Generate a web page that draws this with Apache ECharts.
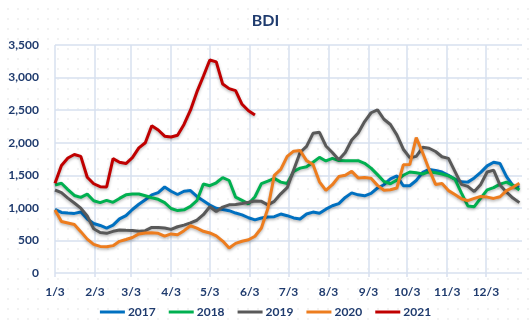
<!DOCTYPE html>
<html>
<head>
<meta charset="utf-8">
<script src="https://cdn.jsdelivr.net/npm/echarts@6/dist/echarts.min.js"></script>
<style>
  html, body { margin: 0; padding: 0; background: #ffffff; }
  #chart {
    width: 531px; height: 328px;
    background-color: #ffffff;
    background-image: radial-gradient(circle, #e2e2e2 0.6px, rgba(255,255,255,0) 0.8px);
    background-size: 10px 10px;
    background-position: 3px 4px;
  }
</style>
</head>
<body>
<div id="chart"></div>
<script>
// Day offsets counted from 3 January; one reading every five days
const days = [];
for (let d = 0; d <= 360; d += 5) days.push(d);

// Month ticks on the 3rd of each month
const tickDays = [0, 31, 59, 90, 120, 151, 181, 212, 243, 273, 304, 334];
const tickLabels = ['1/3', '2/3', '3/3', '4/3', '5/3', '6/3', '7/3', '8/3', '9/3', '10/3', '11/3', '12/3'];

const years = ['2017', '2018', '2019', '2020', '2021'];
const colors = ['#0070C0', '#00B050', '#595959', '#ED7D1F', '#C00000'];

const bdi2017 = [978, 930, 920, 915, 935, 830, 760, 730, 690, 735,
  830, 880, 975, 1055, 1125, 1200, 1235, 1320, 1255, 1205,
  1255, 1265, 1175, 1110, 1044, 993, 975, 957, 920, 893,
  848, 815, 845, 860, 865, 905, 880, 845, 830, 905,
  935, 916, 980, 1033, 1065, 1160, 1230, 1200, 1185, 1222,
  1305, 1355, 1445, 1490, 1340, 1340, 1420, 1545, 1590, 1575,
  1550, 1500, 1440, 1400, 1395, 1460, 1545, 1645, 1700, 1680,
  1480, 1340, 1320];

const bdi2018 = [1350, 1377, 1280, 1190, 1160, 1210, 1110, 1080, 1115, 1085,
  1145, 1200, 1212, 1212, 1185, 1155, 1131, 1080, 990, 958,
  970, 1022, 1110, 1366, 1340, 1385, 1465, 1420, 1165, 1115,
  1062, 1170, 1372, 1410, 1452, 1395, 1375, 1560, 1610, 1630,
  1700, 1775, 1720, 1760, 1726, 1724, 1724, 1724, 1684, 1610,
  1510, 1405, 1370, 1425, 1500, 1550, 1540, 1520, 1555, 1540,
  1520, 1490, 1440, 1230, 1030, 1018, 1150, 1275, 1310, 1365,
  1395, 1345, 1274];

const bdi2019 = [1274, 1235, 1150, 1075, 995, 875, 680, 622, 609, 640,
  660, 655, 652, 640, 650, 700, 700, 690, 670, 710,
  735, 770, 810, 895, 1018, 945, 1012, 1046, 1052, 1068,
  1085, 1105, 1100, 1045, 1100, 1215, 1310, 1580, 1850, 1945,
  2144, 2160, 1950, 1850, 1740, 1850, 2042, 2150, 2325, 2460,
  2505, 2360, 2280, 2120, 1900, 1770, 1790, 1929, 1915, 1865,
  1785, 1760, 1560, 1360, 1330, 1250, 1360, 1550, 1580, 1350,
  1240, 1150, 1080];

const bdi2020 = [967, 790, 768, 745, 635, 520, 440, 408, 404, 420,
  486, 515, 545, 600, 613, 619, 610, 565, 600, 588,
  650, 725, 688, 640, 615, 570, 490, 385, 455, 488,
  510, 565, 690, 990, 1500, 1590, 1790, 1870, 1880, 1725,
  1665, 1400, 1268, 1355, 1480, 1500, 1560, 1460, 1466, 1454,
  1345, 1270, 1278, 1305, 1660, 1665, 2080, 1845, 1590, 1360,
  1375, 1265, 1205, 1140, 1110, 1145, 1175, 1165, 1145, 1170,
  1265, 1315, 1377];

const bdi2021 = [1377, 1650, 1765, 1820, 1790, 1470, 1370, 1325, 1320, 1755,
  1700, 1680, 1770, 1920, 2000, 2260, 2195, 2100, 2088, 2115,
  2280, 2500, 2780, 3020, 3270, 3240, 2900, 2830, 2800, 2590,
  2490, 2425];

const seriesValues = [bdi2017, bdi2018, bdi2019, bdi2020, bdi2021];

const textColor = '#1F3B6E';
const gridColor = '#D7E0EF';
const font = 'Lato, "Open Sans", sans-serif';

const chart = echarts.init(document.getElementById('chart'), null, { renderer: 'canvas' });

chart.setOption({
  backgroundColor: 'transparent',
  animation: false,
  title: {
    text: 'BDI',
    left: 'center',
    top: 8,
    textStyle: { color: textColor, fontSize: 16, fontWeight: 'bold', fontFamily: font }
  },
  legend: {
    bottom: 3,
    left: 'center',
    icon: 'rect',
    itemWidth: 25,
    itemHeight: 3,
    itemGap: 13,
    textStyle: { color: textColor, fontSize: 12, fontWeight: 'bold', fontFamily: font, padding: [0, 0, 0, -2], lineHeight: 16 },
    data: years
  },
  grid: { left: 55, right: 9, top: 45, bottom: 55 },
  xAxis: {
    type: 'value',
    min: 0,
    max: 362,
    axisLine: { show: false },
    axisTick: { show: true, length: 4, customValues: tickDays, lineStyle: { color: gridColor, width: 1.5 } },
    axisLabel: {
      customValues: tickDays,
      margin: 13,
      color: textColor,
      fontSize: 12,
      fontWeight: 'bold',
      fontFamily: font,
      formatter: v => tickLabels[tickDays.indexOf(v)]
    },
    splitLine: { show: true, lineStyle: { color: gridColor, width: 1.5 } }
  },
  yAxis: {
    type: 'value',
    min: 0,
    max: 3500,
    interval: 500,
    axisLine: { show: false },
    axisTick: { show: false },
    axisLabel: {
      margin: 16,
      color: textColor,
      fontSize: 12,
      fontWeight: 'bold',
      fontFamily: font,
      formatter: v => v.toLocaleString('en-US')
    },
    splitLine: { show: true, lineStyle: { color: gridColor, width: 1.5 } }
  },
  series: years.map((name, i) => ({
    name,
    type: 'line',
    symbol: 'none',
    smooth: false,
    color: colors[i],
    lineStyle: {
      width: 3,
      color: colors[i],
      shadowColor: 'rgba(0,0,0,0.3)',
      shadowBlur: 3,
      shadowOffsetY: 1.5
    },
    data: seriesValues[i].map((v, k) => [days[k], v])
  }))
});
</script>
</body>
</html>
